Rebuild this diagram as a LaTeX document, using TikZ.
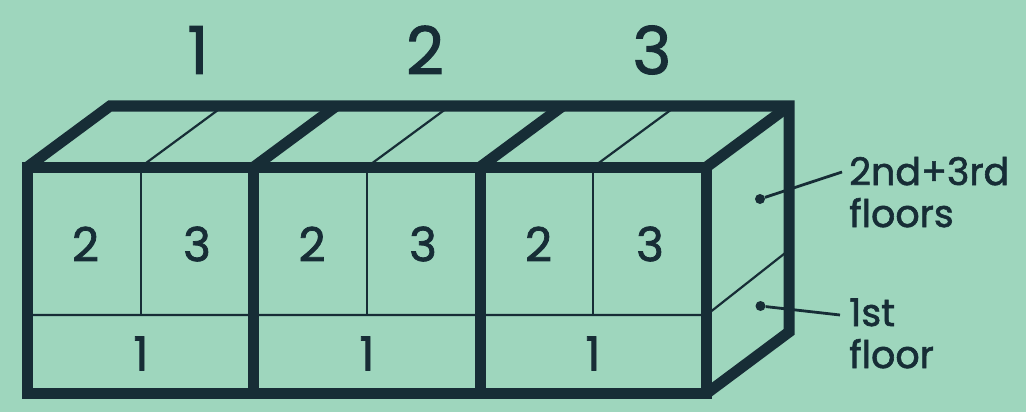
\documentclass[tikz,border=0pt]{standalone}
\usepackage{fontspec}
\setmainfont{Poppins}[RawFeature={embolden=1.6}]
\definecolor{bg}{HTML}{9ED6BD}
\definecolor{ink}{HTML}{172D36}
\tikzset{
  heavy/.style={draw=ink,line width=11pt,line join=miter},
  thin/.style={draw=ink,line width=2.2pt},
  leader/.style={draw=ink,line width=2.8pt},
  dotmark/.style={circle,fill=ink,inner sep=0pt,minimum size=10pt},
  big/.style={text=ink,inner sep=0pt,font=\fontsize{66}{66}\selectfont},
  mid/.style={text=ink,inner sep=0pt,font=\fontsize{47}{47}\selectfont},
  lab/.style={text=ink,inner sep=0pt,anchor=base west,font=\fontsize{38}{38}\selectfont},
}
\begin{document}
\begin{tikzpicture}[x=1pt,y=-1pt]
\useasboundingbox[fill=bg] (0,0) rectangle (1026,412);
% corners
\coordinate (f0) at (27.5,167);
\coordinate (f1) at (253.8,167);
\coordinate (f2) at (480.2,167);
\coordinate (f3) at (706.5,167);
\coordinate (b0) at (27.5,393.5);
\coordinate (b1) at (253.8,393.5);
\coordinate (b2) at (480.2,393.5);
\coordinate (b3) at (706.5,393.5);
\coordinate (r0) at (110,106);
\coordinate (r1) at (336.3,106);
\coordinate (r2) at (562.7,106);
\coordinate (r3) at (789,106);
\coordinate (s3) at (789,332);
% thin lines
\foreach \xa/\xb/\n in {140.6/223.4/a,367/449.8/b,593.3/676.1/c}{
  \coordinate (t\n) at (\xa,167);
  \coordinate (u\n) at (\xb,106);
  \coordinate (v\n) at (\xa,315);
  \draw[thin] (t\n) -- (u\n);
  \draw[thin] (t\n) -- (v\n);
}
\coordinate (ml) at (27.5,315);
\coordinate (mr) at (706.5,315);
\coordinate (ms) at (789,250);
\draw[thin] (ml) -- (mr) -- (ms);
% heavy frame
\draw[heavy] (f0) rectangle (b3);
\draw[heavy] (f1) -- (b1);
\draw[heavy] (f2) -- (b2);
\draw[heavy] (f0) -- (r0) -- (r3) -- (s3) -- (b3);
\draw[heavy] (f1) -- (r1);
\draw[heavy] (f2) -- (r2);
\draw[heavy] (f3) -- (r3);
% column headers
\node[big] (h1) at (198,50) {1};
\node[big] (h2) at (425,50) {2};
\node[big] (h3) at (652,50) {3};
% cell labels
\node[mid] (c12) at (85.5,244) {2};
\node[mid] (c13) at (197,244) {3};
\node[mid] (c22) at (312,244) {2};
\node[mid] (c23) at (423,244) {3};
\node[mid] (c32) at (538.5,244) {2};
\node[mid] (c33) at (650,244) {3};
\node[mid] (c11) at (141,353.5) {1};
\node[mid] (c21) at (367,353.5) {1};
\node[mid] (c31) at (593,353.5) {1};
% leaders
\node[dotmark] (d1) at (760,199) {};
\node[dotmark] (d2) at (760.5,306) {};
\coordinate (e1) at (842,172);
\coordinate (e2) at (840,315);
\draw[leader] (d1) -- (e1);
\draw[leader] (d2) -- (e2);
\node[lab] (l1) at (849,185) {2nd+3rd};
\node[lab] (l2) at (849,227) {floors};
\node[lab] (l3) at (849,326) {1st};
\node[lab] (l4) at (849,368) {floor};
\end{tikzpicture}
\end{document}
